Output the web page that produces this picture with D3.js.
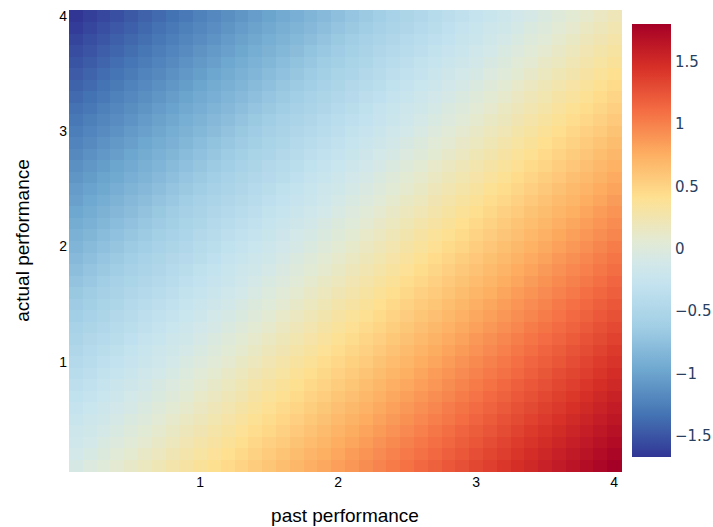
<!DOCTYPE html>
<html>
<head>
<meta charset="utf-8">
<script src="https://cdn.jsdelivr.net/npm/d3@7"></script>
<style>
  body { margin: 0; background: #fff; }
  svg { display: block; }
</style>
</head>
<body>
<div id="chart"></div>
<script>
// x = past performance, y = actual performance (cell centres)
var pastPerf = [0.1,0.2,0.3,0.4,0.5,0.6,0.7,0.8,0.9,1.0,1.1,1.2,1.3,1.4,1.5,1.6,1.7,1.8,1.9,2.0,
                2.1,2.2,2.3,2.4,2.5,2.6,2.7,2.8,2.9,3.0,3.1,3.2,3.3,3.4,3.5,3.6,3.7,3.8,3.9,4.0];
var actualPerf = [0.1,0.2,0.3,0.4,0.5,0.6,0.7,0.8,0.9,1.0,1.1,1.2,1.3,1.4,1.5,1.6,1.7,1.8,1.9,2.0,
                  2.1,2.2,2.3,2.4,2.5,2.6,2.7,2.8,2.9,3.0,3.1,3.2,3.3,3.4,3.5,3.6,3.7,3.8,3.9,4.0];

// cell values x1000, one row per actualPerf value (bottom row first)
var zMilli = [
[-72,-24,24,72,120,168,216,264,312,360,408,456,504,552,600,648,696,744,792,840,888,936,984,1032,1080,1128,1176,1224,1272,1320,1368,1416,1464,1512,1560,1608,1656,1704,1752,1800],
[-113,-65,-17,31,79,127,175,223,271,319,367,415,463,511,559,607,655,703,751,799,847,895,943,991,1039,1087,1135,1183,1231,1279,1327,1375,1423,1471,1519,1567,1615,1663,1711,1759],
[-154,-106,-58,-10,38,86,134,182,230,278,326,374,422,470,518,566,614,662,710,758,806,854,902,950,998,1046,1094,1142,1190,1238,1286,1334,1382,1430,1478,1526,1574,1622,1670,1718],
[-195,-147,-99,-51,-3,45,93,141,189,237,285,333,381,429,477,525,573,621,669,717,765,813,861,909,957,1005,1053,1101,1149,1197,1245,1293,1341,1389,1437,1485,1533,1581,1629,1677],
[-236,-188,-140,-92,-44,4,52,100,148,196,244,292,340,388,436,484,532,580,628,676,724,772,820,868,916,964,1012,1060,1108,1156,1204,1252,1300,1348,1396,1444,1492,1540,1588,1636],
[-277,-229,-181,-133,-85,-37,11,59,107,155,203,251,299,347,395,443,491,539,587,635,683,731,779,827,875,923,971,1019,1067,1115,1163,1211,1259,1307,1355,1403,1451,1499,1547,1595],
[-318,-270,-222,-174,-126,-78,-30,18,66,114,162,210,258,306,354,402,450,498,546,594,642,690,738,786,834,882,930,978,1026,1074,1122,1170,1218,1266,1314,1362,1410,1458,1506,1554],
[-359,-311,-263,-215,-167,-119,-71,-23,25,73,121,169,217,265,313,361,409,457,505,553,601,649,697,745,793,841,889,937,985,1033,1081,1129,1177,1225,1273,1321,1369,1417,1465,1513],
[-400,-352,-304,-256,-208,-160,-112,-64,-16,32,80,128,176,224,272,320,368,416,464,512,560,608,656,704,752,800,848,896,944,992,1040,1088,1136,1184,1232,1280,1328,1376,1424,1472],
[-441,-393,-345,-297,-249,-201,-153,-105,-57,-9,39,87,135,183,231,279,327,375,423,471,519,567,615,663,711,759,807,855,903,951,999,1047,1095,1143,1191,1239,1287,1335,1383,1431],
[-482,-434,-386,-338,-290,-242,-194,-146,-98,-50,-2,46,94,142,190,238,286,334,382,430,478,526,574,622,670,718,766,814,862,910,958,1006,1054,1102,1150,1198,1246,1294,1342,1390],
[-523,-475,-427,-379,-331,-283,-235,-187,-139,-91,-43,5,53,101,149,197,245,293,341,389,437,485,533,581,629,677,725,773,821,869,917,965,1013,1061,1109,1157,1205,1253,1301,1349],
[-564,-516,-468,-420,-372,-324,-276,-228,-180,-132,-84,-36,12,60,108,156,204,252,300,348,396,444,492,540,588,636,684,732,780,828,876,924,972,1020,1068,1116,1164,1212,1260,1308],
[-605,-557,-509,-461,-413,-365,-317,-269,-221,-173,-125,-77,-29,19,67,115,163,211,259,307,355,403,451,499,547,595,643,691,739,787,835,883,931,979,1027,1075,1123,1171,1219,1267],
[-646,-598,-550,-502,-454,-406,-358,-310,-262,-214,-166,-118,-70,-22,26,74,122,170,218,266,314,362,410,458,506,554,602,650,698,746,794,842,890,938,986,1034,1082,1130,1178,1226],
[-687,-639,-591,-543,-495,-447,-399,-351,-303,-255,-207,-159,-111,-63,-15,33,81,129,177,225,273,321,369,417,465,513,561,609,657,705,753,801,849,897,945,993,1041,1089,1137,1185],
[-728,-680,-632,-584,-536,-488,-440,-392,-344,-296,-248,-200,-152,-104,-56,-8,40,88,136,184,232,280,328,376,424,472,520,568,616,664,712,760,808,856,904,952,1000,1048,1096,1144],
[-769,-721,-673,-625,-577,-529,-481,-433,-385,-337,-289,-241,-193,-145,-97,-49,-1,47,95,143,191,239,287,335,383,431,479,527,575,623,671,719,767,815,863,911,959,1007,1055,1103],
[-810,-762,-714,-666,-618,-570,-522,-474,-426,-378,-330,-282,-234,-186,-138,-90,-42,6,54,102,150,198,246,294,342,390,438,486,534,582,630,678,726,774,822,870,918,966,1014,1062],
[-851,-803,-755,-707,-659,-611,-563,-515,-467,-419,-371,-323,-275,-227,-179,-131,-83,-35,13,61,109,157,205,253,301,349,397,445,493,541,589,637,685,733,781,829,877,925,973,1021],
[-892,-844,-796,-748,-700,-652,-604,-556,-508,-460,-412,-364,-316,-268,-220,-172,-124,-76,-28,20,68,116,164,212,260,308,356,404,452,500,548,596,644,692,740,788,836,884,932,980],
[-933,-885,-837,-789,-741,-693,-645,-597,-549,-501,-453,-405,-357,-309,-261,-213,-165,-117,-69,-21,27,75,123,171,219,267,315,363,411,459,507,555,603,651,699,747,795,843,891,939],
[-974,-926,-878,-830,-782,-734,-686,-638,-590,-542,-494,-446,-398,-350,-302,-254,-206,-158,-110,-62,-14,34,82,130,178,226,274,322,370,418,466,514,562,610,658,706,754,802,850,898],
[-1015,-967,-919,-871,-823,-775,-727,-679,-631,-583,-535,-487,-439,-391,-343,-295,-247,-199,-151,-103,-55,-7,41,89,137,185,233,281,329,377,425,473,521,569,617,665,713,761,809,857],
[-1056,-1008,-960,-912,-864,-816,-768,-720,-672,-624,-576,-528,-480,-432,-384,-336,-288,-240,-192,-144,-96,-48,0,48,96,144,192,240,288,336,384,432,480,528,576,624,672,720,768,816],
[-1097,-1049,-1001,-953,-905,-857,-809,-761,-713,-665,-617,-569,-521,-473,-425,-377,-329,-281,-233,-185,-137,-89,-41,7,55,103,151,199,247,295,343,391,439,487,535,583,631,679,727,775],
[-1138,-1090,-1042,-994,-946,-898,-850,-802,-754,-706,-658,-610,-562,-514,-466,-418,-370,-322,-274,-226,-178,-130,-82,-34,14,62,110,158,206,254,302,350,398,446,494,542,590,638,686,734],
[-1179,-1131,-1083,-1035,-987,-939,-891,-843,-795,-747,-699,-651,-603,-555,-507,-459,-411,-363,-315,-267,-219,-171,-123,-75,-27,21,69,117,165,213,261,309,357,405,453,501,549,597,645,693],
[-1220,-1172,-1124,-1076,-1028,-980,-932,-884,-836,-788,-740,-692,-644,-596,-548,-500,-452,-404,-356,-308,-260,-212,-164,-116,-68,-20,28,76,124,172,220,268,316,364,412,460,508,556,604,652],
[-1261,-1213,-1165,-1117,-1069,-1021,-973,-925,-877,-829,-781,-733,-685,-637,-589,-541,-493,-445,-397,-349,-301,-253,-205,-157,-109,-61,-13,35,83,131,179,227,275,323,371,419,467,515,563,611],
[-1302,-1254,-1206,-1158,-1110,-1062,-1014,-966,-918,-870,-822,-774,-726,-678,-630,-582,-534,-486,-438,-390,-342,-294,-246,-198,-150,-102,-54,-6,42,90,138,186,234,282,330,378,426,474,522,570],
[-1343,-1295,-1247,-1199,-1151,-1103,-1055,-1007,-959,-911,-863,-815,-767,-719,-671,-623,-575,-527,-479,-431,-383,-335,-287,-239,-191,-143,-95,-47,1,49,97,145,193,241,289,337,385,433,481,529],
[-1384,-1336,-1288,-1240,-1192,-1144,-1096,-1048,-1000,-952,-904,-856,-808,-760,-712,-664,-616,-568,-520,-472,-424,-376,-328,-280,-232,-184,-136,-88,-40,8,56,104,152,200,248,296,344,392,440,488],
[-1425,-1377,-1329,-1281,-1233,-1185,-1137,-1089,-1041,-993,-945,-897,-849,-801,-753,-705,-657,-609,-561,-513,-465,-417,-369,-321,-273,-225,-177,-129,-81,-33,15,63,111,159,207,255,303,351,399,447],
[-1466,-1418,-1370,-1322,-1274,-1226,-1178,-1130,-1082,-1034,-986,-938,-890,-842,-794,-746,-698,-650,-602,-554,-506,-458,-410,-362,-314,-266,-218,-170,-122,-74,-26,22,70,118,166,214,262,310,358,406],
[-1507,-1459,-1411,-1363,-1315,-1267,-1219,-1171,-1123,-1075,-1027,-979,-931,-883,-835,-787,-739,-691,-643,-595,-547,-499,-451,-403,-355,-307,-259,-211,-163,-115,-67,-19,29,77,125,173,221,269,317,365],
[-1548,-1500,-1452,-1404,-1356,-1308,-1260,-1212,-1164,-1116,-1068,-1020,-972,-924,-876,-828,-780,-732,-684,-636,-588,-540,-492,-444,-396,-348,-300,-252,-204,-156,-108,-60,-12,36,84,132,180,228,276,324],
[-1589,-1541,-1493,-1445,-1397,-1349,-1301,-1253,-1205,-1157,-1109,-1061,-1013,-965,-917,-869,-821,-773,-725,-677,-629,-581,-533,-485,-437,-389,-341,-293,-245,-197,-149,-101,-53,-5,43,91,139,187,235,283],
[-1630,-1582,-1534,-1486,-1438,-1390,-1342,-1294,-1246,-1198,-1150,-1102,-1054,-1006,-958,-910,-862,-814,-766,-718,-670,-622,-574,-526,-478,-430,-382,-334,-286,-238,-190,-142,-94,-46,2,50,98,146,194,242],
[-1671,-1623,-1575,-1527,-1479,-1431,-1383,-1335,-1287,-1239,-1191,-1143,-1095,-1047,-999,-951,-903,-855,-807,-759,-711,-663,-615,-567,-519,-471,-423,-375,-327,-279,-231,-183,-135,-87,-39,9,57,105,153,201]
];

var xTicks = [1, 2, 3, 4];
var yTicks = [1, 2, 3, 4];
var cbTicks = [-1.5, -1, -0.5, 0, 0.5, 1, 1.5];

var width = 713, height = 527;
var plot = {left: 69, right: 621, top: 10, bottom: 471};
var bar = {left: 632, right: 671};

// flat table of cells
var cells = [];
actualPerf.forEach(function(yv, i) {
  pastPerf.forEach(function(xv, j) {
    cells.push({x: xv, y: yv, z: zMilli[i][j] / 1000});
  });
});

var zExt = d3.extent(cells, d => d.z);
var half = 0.05;

var x = d3.scaleLinear().domain([pastPerf[0] - half, pastPerf[pastPerf.length - 1] + half]).range([plot.left, plot.right]);
var y = d3.scaleLinear().domain([actualPerf[0] - half, actualPerf[actualPerf.length - 1] + half]).range([plot.bottom, plot.top]);

// RdYlBu-like ramp, stops placed by fraction of the z range
var stopFrac = [0, 0.1, 0.2, 0.3, 0.4, 0.45, 0.5, 0.6, 0.7, 0.8, 0.9, 1];
var stopCol = ["#313695", "#4575b4", "#6ea7cf", "#a1cee5", "#c4e3ef", "#d3e8e8", "#e3ead3",
               "#fee090", "#fdae61", "#f46d43", "#d73027", "#a50026"];
var colour = d3.scaleLinear()
  .domain(stopFrac.map(f => zExt[0] + f * (zExt[1] - zExt[0])))
  .range(stopCol)
  .interpolate(d3.interpolateRgb)
  .clamp(true);

var svg = d3.select("#chart").append("svg")
  .attr("width", width)
  .attr("height", height);

// heatmap
svg.append("g").attr("class", "cells")
  .selectAll("rect").data(cells).enter().append("rect")
  .attr("x", d => x(d.x - half))
  .attr("y", d => y(d.y + half))
  .attr("width", d => x(d.x + half) - x(d.x - half) + 0.5)
  .attr("height", d => y(d.y - half) - y(d.y + half) + 0.5)
  .attr("fill", d => colour(d.z))
  .attr("shape-rendering", "crispEdges");

// axes (labels only, no lines)
var tickFont = "'Liberation Sans', Arial, sans-serif";

svg.append("g").selectAll("text").data(xTicks).enter().append("text")
  .attr("x", d => x(d))
  .attr("y", 487)
  .attr("text-anchor", "middle")
  .style("font-family", tickFont)
  .style("font-size", "14px")
  .style("fill", "#000")
  .text(d => d);

svg.append("g").selectAll("text").data(yTicks).enter().append("text")
  .attr("x", 67)
  .attr("y", d => y(d) + 5)
  .attr("text-anchor", "end")
  .style("font-family", tickFont)
  .style("font-size", "14px")
  .style("fill", "#000")
  .text(d => d);

svg.append("text")
  .attr("x", (plot.left + plot.right) / 2)
  .attr("y", 522)
  .attr("text-anchor", "middle")
  .style("font-family", tickFont)
  .style("font-size", "19px")
  .style("fill", "#000")
  .text("past performance");

svg.append("text")
  .attr("transform", "translate(29," + ((plot.top + plot.bottom) / 2) + ") rotate(-90)")
  .attr("text-anchor", "middle")
  .style("font-family", tickFont)
  .style("font-size", "19px")
  .style("fill", "#000")
  .text("actual performance");

// colour bar
var cb = d3.scaleLinear().domain(zExt).range([457, 24]);

var grad = svg.append("defs").append("linearGradient")
  .attr("id", "cbgrad")
  .attr("x1", 0).attr("y1", 1).attr("x2", 0).attr("y2", 0);
grad.selectAll("stop").data(colour.domain()).enter().append("stop")
  .attr("offset", d => (d - zExt[0]) / (zExt[1] - zExt[0]))
  .attr("stop-color", d => colour(d));

svg.append("rect")
  .attr("x", bar.left)
  .attr("y", cb(zExt[1]))
  .attr("width", bar.right - bar.left)
  .attr("height", cb(zExt[0]) - cb(zExt[1]))
  .attr("fill", "url(#cbgrad)");

var fmt = d => d < 0 ? "\u2212" + Math.abs(d) : String(d);
svg.append("g").selectAll("text").data(cbTicks).enter().append("text")
  .attr("x", bar.right + 4)
  .attr("y", d => cb(d) + 5.5)
  .style("font-family", "'DejaVu Sans', Verdana, sans-serif")
  .style("font-size", "15px")
  .style("fill", "#2a3f5f")
  .text(fmt);
</script>
</body>
</html>
